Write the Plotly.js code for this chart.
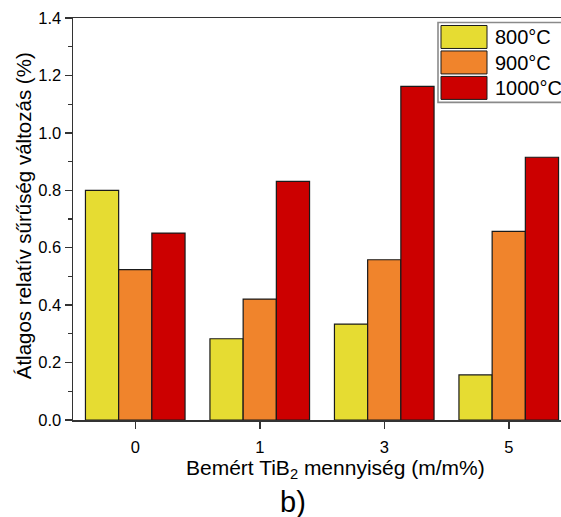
<!DOCTYPE html>
<html>
<head>
<meta charset="utf-8">
<script src="https://cdn.plot.ly/plotly-3.0.1.min.js"></script>
<style>
  html, body { margin: 0; padding: 0; overflow: hidden; background: #fff; }
  #chart { width: 600px; height: 517px; }
</style>
</head>
<body>
<div id="chart"></div>
<script>
// TiB2 additions (m/m%) along the x axis
const categories = ['0', '1', '3', '5'];

// Series names (sintering temperature)
const seriesNames = ['800°C', '900°C', '1000°C'];

// Average relative density change (%) per temperature
const values800 = [0.80, 0.283, 0.334, 0.157];
const values900 = [0.524, 0.421, 0.558, 0.657];
const values1000 = [0.651, 0.831, 1.162, 0.915];

const seriesColors = ['#E6DC32', '#F0842C', '#CC0000'];

const seriesValues = [values800, values900, values1000];

const traces = seriesValues.map((vals, i) => ({
  type: 'bar',
  x: categories,
  y: vals,
  name: seriesNames[i],
  marker: { color: seriesColors[i], line: { color: '#1a1a1a', width: 1.2 } },
  hoverinfo: 'x+y+name'
}));

// Plot area geometry in pixels (used for the hand-built legend box)
const L = 73, T = 17.5, W = 498, H = 402.5;
const px = v => (v - L) / W;
const py = v => (T + H - v) / H;

const fontFamily = 'Liberation Sans, Arial, sans-serif';

const shapes = [{
  type: 'rect', xref: 'paper', yref: 'paper',
  x0: px(438), x1: px(568), y0: py(102), y1: py(22),
  line: { color: '#8a8a8a', width: 1.6 }, fillcolor: 'rgba(0,0,0,0)'
}];
const annotations = [];
const rowTops = [25, 50.5, 76];
seriesNames.forEach((name, i) => {
  shapes.push({
    type: 'rect', xref: 'paper', yref: 'paper',
    x0: px(441), x1: px(487), y0: py(rowTops[i] + 23), y1: py(rowTops[i]),
    line: { color: '#1a1a1a', width: 1 }, fillcolor: seriesColors[i]
  });
  annotations.push({
    xref: 'paper', yref: 'paper', x: px(493), y: py(rowTops[i] + 12),
    xanchor: 'left', yanchor: 'middle', showarrow: false, text: name,
    font: { family: fontFamily, size: 20, color: '#000' }
  });
});

annotations.push({
  xref: 'paper', yref: 'paper', x: px(335), y: py(469),
  xanchor: 'center', yanchor: 'middle', showarrow: false,
  text: 'Bemért TiB<sub>2</sub> mennyiség (m/m%)',
  font: { family: fontFamily, size: 21, color: '#000' }
});
annotations.push({
  xref: 'paper', yref: 'paper', x: px(23), y: py(216),
  xanchor: 'center', yanchor: 'middle', showarrow: false, textangle: -90,
  text: 'Átlagos relatív sűrűség változás (%)',
  font: { family: fontFamily, size: 20.5, color: '#000' }
});
annotations.push({
  xref: 'paper', yref: 'paper', x: px(293), y: py(502),
  xanchor: 'center', yanchor: 'middle', showarrow: false,
  text: 'b)',
  font: { family: fontFamily, size: 29, color: '#000' }
});

const axisFont = { family: fontFamily, size: 16.5, color: '#000' };

const layout = {
  width: 600, height: 517,
  margin: { l: L, r: 600 - L - W, t: T, b: 517 - T - H, pad: 0 },
  paper_bgcolor: '#fff', plot_bgcolor: '#fff',
  barmode: 'group', bargap: 0.2, bargroupgap: 0,
  showlegend: false,
  font: axisFont,
  xaxis: {
    type: 'category', range: [-0.5, 3.5],
    showline: true, linecolor: '#333', linewidth: 1.5, mirror: true,
    ticks: 'outside', ticklen: 7, tickwidth: 1.5, tickcolor: '#333',
    ticklabelstandoff: 5,
    showgrid: false, zeroline: false, tickfont: axisFont
  },
  yaxis: {
    range: [0, 1.4], dtick: 0.2, tickformat: '.1f',
    showline: true, linecolor: '#333', linewidth: 1.5, mirror: true,
    ticks: 'outside', ticklen: 7, tickwidth: 1.5, tickcolor: '#333',
    minor: { dtick: 0.1, ticks: 'outside', ticklen: 4, tickwidth: 1.2, tickcolor: '#333' },
    showgrid: false, zeroline: false, tickfont: axisFont
  },
  shapes: shapes,
  annotations: annotations
};

Plotly.newPlot('chart', traces, layout, { displayModeBar: false, staticPlot: true });
</script>
</body>
</html>
